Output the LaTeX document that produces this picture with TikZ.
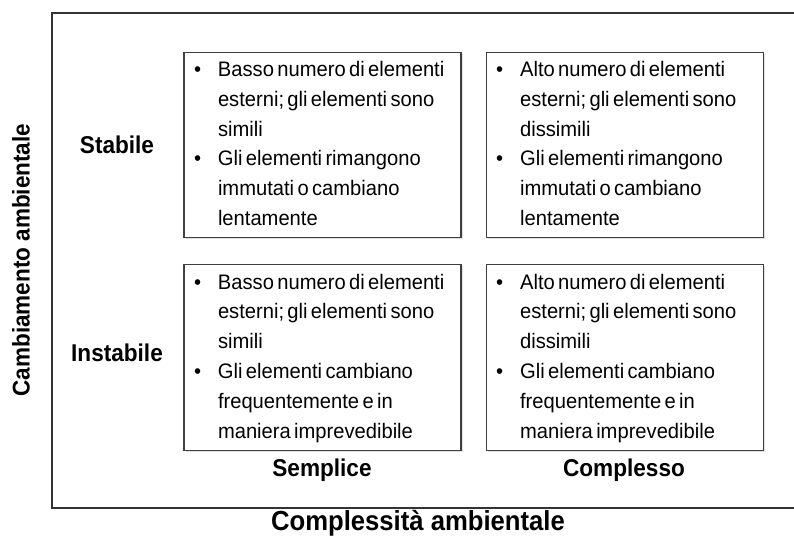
\documentclass[tikz,border=0pt]{standalone}
\usepackage{fontspec}
\setmainfont{Liberation Sans}[FakeStretch=0.93]
\newfontfamily\cellfont{Liberation Sans}[FakeStretch=0.96, WordSpace=0.6]
\usetikzlibrary{positioning, shadows}

\tikzset{
  cell/.style={draw=black!75, line width=1.1pt, fill=white,
    minimum width=277pt, minimum height=184pt, inner xsep=10pt,
    font=\cellfont\fontsize{21}{29.8}\selectfont,
    drop shadow={shadow xshift=1.5pt, shadow yshift=-1.5pt, opacity=0.25}},
  rowlab/.style={font=\bfseries\fontsize{24.3}{30}\selectfont},
  axislab/.style={font=\bfseries\fontsize{27.6}{32}\selectfont}
}
\newcommand{\cellitems}[2]{%
  \begin{tabular}{@{}p{24pt}@{}p{233pt}@{}}
    \textbullet & #1\\
    \textbullet & #2
  \end{tabular}}

\begin{document}
\begin{tikzpicture}[x=1pt, y=-1pt]
\useasboundingbox (0,0) rectangle (794,542);

% Outer frame
\draw[black!80, line width=1.6pt, drop shadow={shadow xshift=1pt, shadow yshift=-1pt, opacity=0.3}, fill=white]
  (52,13) rectangle (800,508);

% Cells
\node[cell] (sempstab) at (322.5,145) {\cellitems{Basso numero di elementi\newline esterni; gli elementi sono\newline simili}{Gli elementi rimangono\newline immutati o cambiano\newline lentamente}};
\node[cell, right=24pt of sempstab] (compstab) {\cellitems{Alto numero di elementi\newline esterni; gli elementi sono\newline dissimili}{Gli elementi rimangono\newline immutati o cambiano\newline lentamente}};
\node[cell, minimum height=182pt, below=26pt of sempstab] (sempinst) {\cellitems{Basso numero di elementi\newline esterni; gli elementi sono\newline simili}{Gli elementi cambiano\newline frequentemente e in\newline maniera imprevedibile}};
\node[cell, minimum height=182pt, right=24pt of sempinst] (compinst) {\cellitems{Alto numero di elementi\newline esterni; gli elementi sono\newline dissimili}{Gli elementi cambiano\newline frequentemente e in\newline maniera imprevedibile}};

% Row and column labels
\node[rowlab] (stabile) at (117,145) {Stabile};
\node[rowlab] (instabile) at (117,353) {Instabile};
\node[rowlab] (semplice) at (322,470) {Semplice};
\node[rowlab] (complesso) at (624,470) {Complesso};

% Axis labels
\node[axislab] (complex) at (418,523) {Complessità ambientale};
\node[axislab, font=\bfseries\fontsize{24.2}{30}\selectfont, rotate=90] (cambio) at (21,260) {Cambiamento ambientale};
\end{tikzpicture}
\end{document}
